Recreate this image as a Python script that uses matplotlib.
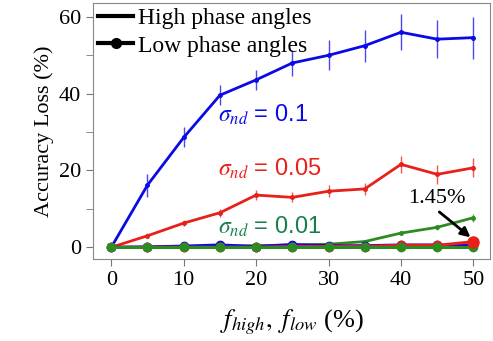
import matplotlib
matplotlib.use("Agg")
import matplotlib.pyplot as plt
from matplotlib.lines import Line2D

plt.rcParams["font.family"] = ["Liberation Serif", "DejaVu Serif"]
plt.rcParams["mathtext.fontset"] = "stix"

frac = [0, 5, 10, 15, 20, 25, 30, 35, 40, 45, 50]

# high phase angles (mean and error)
blue_high = [0, 16.2, 28.6, 39.6, 43.6, 48.0, 50.0, 52.5, 56.0, 54.2, 54.6]
blue_err = [0, 3.0, 2.6, 2.6, 2.6, 3.3, 3.9, 4.2, 4.7, 5.0, 5.5]
red_high = [0, 3.0, 6.3, 9.0, 13.6, 13.0, 14.6, 15.2, 21.6, 19.0, 20.7]
red_err = [0, 0.6, 0.8, 1.0, 1.2, 1.3, 1.5, 1.6, 2.2, 2.4, 2.5]
green_high = [0, 0, 0.2, 0.3, 0.4, 0.6, 0.8, 1.5, 3.7, 5.2, 7.7]
green_err = [0, 0.2, 0.2, 0.2, 0.3, 0.3, 0.4, 0.5, 0.6, 0.7, 1.0]

# low phase angles
blue_low = [0, 0.1, 0.3, 0.6, 0.2, 0.7, 0.4, 0.4, 0.6, 0.6, 0.5]
red_low = [0, 0, 0, 0, 0, 0.2, 0.2, 0.2, 0.5, 0.5, 1.45]
green_low = [0, 0, 0, 0, 0, 0, 0, 0, 0, 0, 0]

BLUE = "#0a0ae6"
RED = "#e8201a"
GREEN = "#2e8b22"
GREEN_TXT = "#17804a"

fig = plt.figure(figsize=(4.93, 3.41), dpi=100)
ax = fig.add_axes([0.189, 0.241, 0.805, 0.750])

for y, err, c in [(blue_high, blue_err, BLUE), (red_high, red_err, RED), (green_high, green_err, GREEN)]:
    ax.errorbar(frac, y, yerr=err, fmt="none", ecolor=c, elinewidth=1.0, alpha=0.75, capsize=0, zorder=2)
    ax.plot(frac, y, color=c, lw=2.0, marker="o", ms=2.5, zorder=3)

for y, c in [(blue_low, BLUE), (red_low, RED), (green_low, GREEN)]:
    ax.plot(frac, y, color=c, lw=2.2, marker="o", ms=6, zorder=4)
# last red point is drawn a bit larger in the original
ax.plot(frac[-1:], red_low[-1:], color=RED, marker="o", ms=8, zorder=5)

ax.text(14.8, 34.5, r"$\sigma_{nd}$ = 0.1", color=BLUE, fontsize=17,
        family=["Liberation Sans"], va="center", ha="left")
ax.text(14.8, 20.3, r"$\sigma_{nd}$ = 0.05", color=RED, fontsize=17,
        family=["Liberation Sans"], va="center", ha="left")
ax.text(14.8, 5.2, r"$\sigma_{nd}$ = 0.01", color=GREEN_TXT, fontsize=17,
        family=["Liberation Sans"], va="center", ha="left")

ax.text(44.9, 12.8, "1.45%", fontsize=16, ha="center", va="center")
ax.annotate("", xy=(49.6, 2.6), xytext=(45.3, 9.2),
            arrowprops=dict(arrowstyle="-|>", color="black", lw=2, mutation_scale=14,
                            shrinkA=0, shrinkB=0))

ax.set_xlim(-2.5, 52.3)
ax.set_ylim(-3, 63.6)
ax.set_xticks([0, 10, 20, 30, 40, 50])
ax.set_yticks([0, 20, 40, 60])
ax.set_yticks([10, 30, 50], minor=True)
ax.tick_params(axis="both", labelsize=16, color="#777777", length=5)
ax.tick_params(axis="y", which="minor", color="#777777", length=5)
for s in ax.spines.values():
    s.set_color("#888888")

ax.set_ylabel("Accuracy Loss (%)", fontsize=16, labelpad=4)
ax.set_xlabel(r"$f_{high},\ f_{low}$ (%)", fontsize=19, labelpad=13)

handles = [
    Line2D([], [], color="black", lw=3),
    Line2D([], [], color="black", lw=3, marker="o", ms=7),
]
ax.legend(handles, ["High phase angles", "Low phase angles"], loc="upper left",
          frameon=False, fontsize=17, handlelength=1.5, handletextpad=0.2,
          borderaxespad=0.1, labelspacing=0.25, borderpad=0.1)

fig.savefig("out.png", dpi=100)
